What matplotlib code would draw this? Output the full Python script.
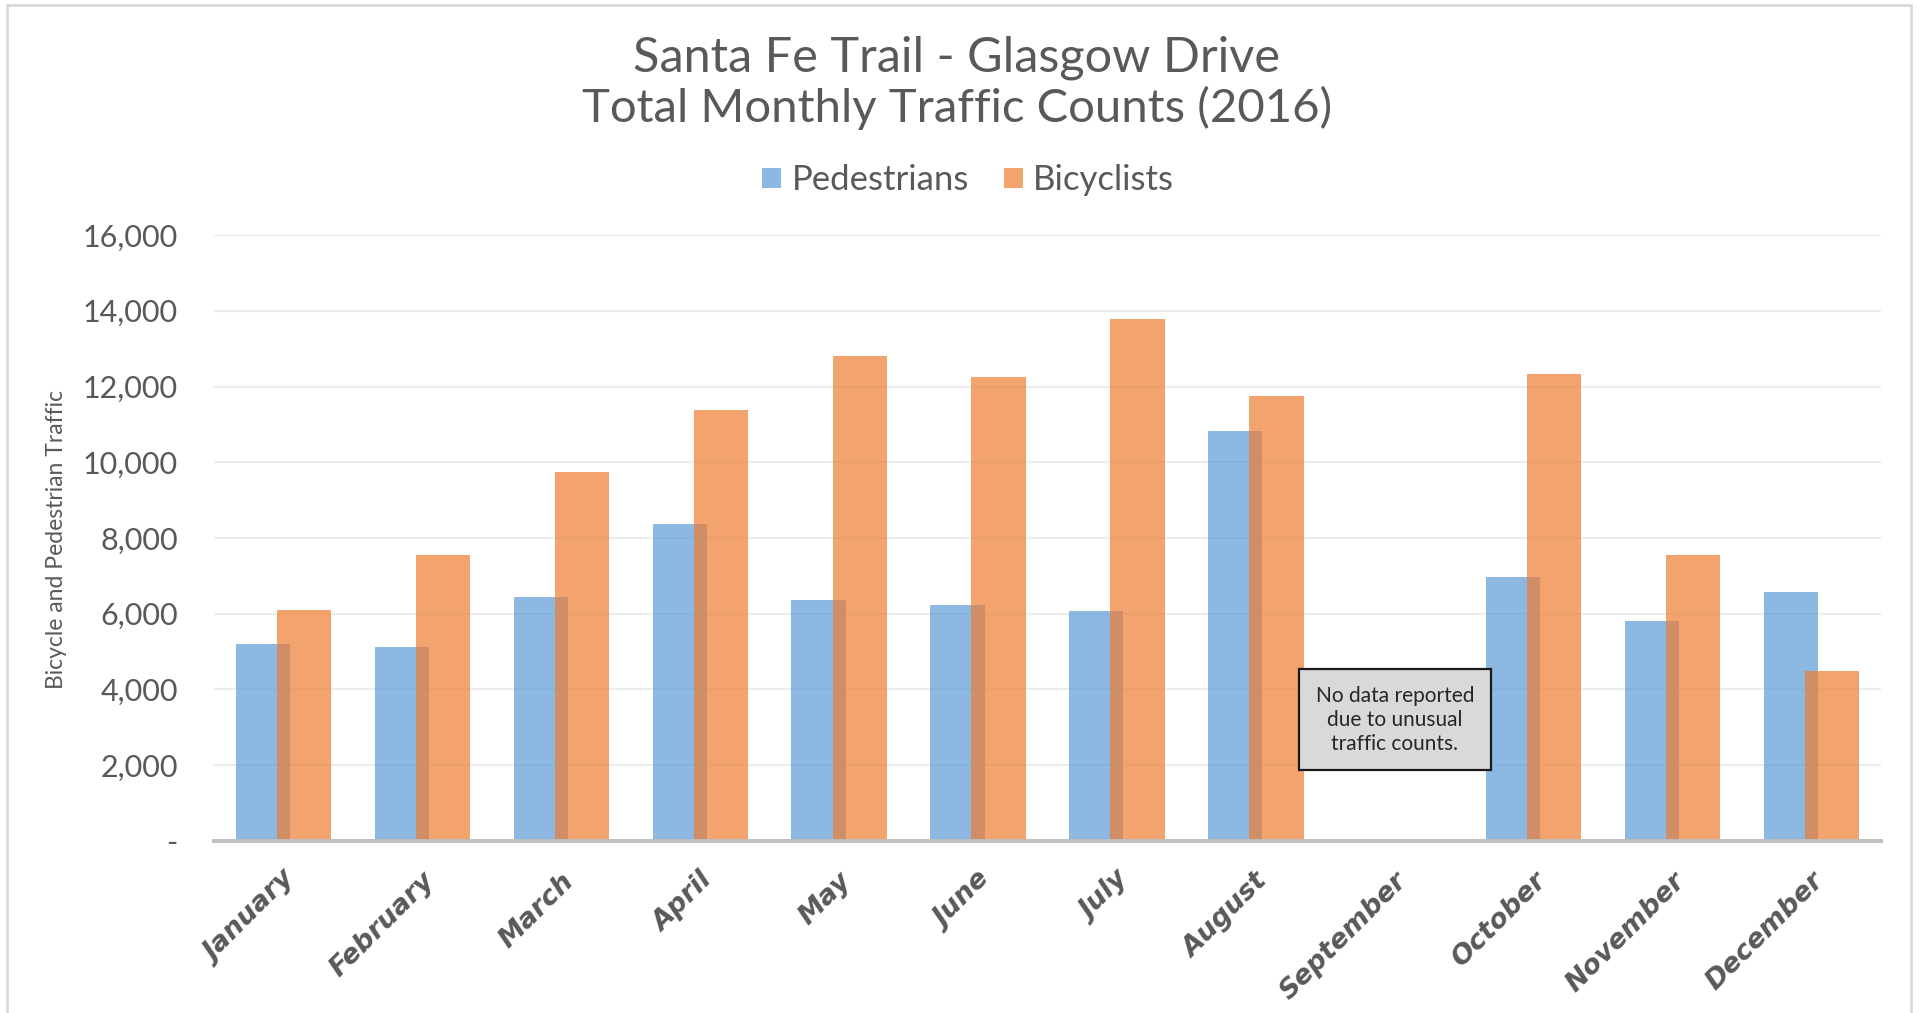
"""Santa Fe Trail - Glasgow Drive monthly traffic counts, 2016"""
import matplotlib
matplotlib.use("Agg")
import matplotlib.pyplot as plt
from matplotlib.patches import Rectangle
from matplotlib.ticker import FuncFormatter
from matplotlib.transforms import ScaledTranslation
import numpy as np

months = ["January", "February", "March", "April", "May", "June", "July",
          "August", "September", "October", "November", "December"]
pedestrians = [5200, 5120, 6450, 8380, 6350, 6220, 6080, 10820, np.nan, 6960, 5800, 6580]
bicyclists = [6110, 7555, 9730, 11370, 12800, 12240, 13780, 11750, np.nan, 12340, 7560, 4480]
y_ticks = [0, 2000, 4000, 6000, 8000, 10000, 12000, 14000, 16000]
note_month = "September"
note_text = "No data reported\ndue to unusual\ntraffic counts."

GREY_TEXT = "#595959"
BLUE = "#5B9BD5"
ORANGE = "#ED7D31"

plt.rcParams["font.family"] = ["Lato", "DejaVu Sans"]


def tick_fmt(value, pos):
    """Excel accounting style: zero shown as a dash"""
    if value == 0:
        return "-"
    return f"{value:,.0f}"


def main():
    fig = plt.figure(figsize=(19.19, 10.13), dpi=100)
    ax = fig.add_axes([0.1115, 0.1698, 0.8687, 0.5982])

    x = np.arange(len(months))
    width = 0.39
    offset = 0.148
    ax.bar(x - offset, pedestrians, width, color=BLUE, alpha=0.7,
           label="Pedestrians", zorder=2)
    ax.bar(x + offset, bicyclists, width, color=ORANGE, alpha=0.7,
           label="Bicyclists", zorder=3)

    ax.set_xlim(-0.5, len(months) - 0.5)
    ax.set_ylim(0, 16000)
    ax.set_yticks(y_ticks)
    ax.yaxis.set_major_formatter(FuncFormatter(tick_fmt))
    ax.grid(axis="y", color="#EDEDED", linewidth=1.6, zorder=0)
    ax.set_axisbelow(True)

    for side in ["top", "right", "left"]:
        ax.spines[side].set_visible(False)
    ax.spines["bottom"].set_color("#BFBFBF")
    ax.spines["bottom"].set_linewidth(2.8)
    ax.spines["bottom"].set_zorder(4)

    ax.tick_params(axis="y", length=0, pad=26, labelsize=22, labelcolor=GREY_TEXT)
    ax.tick_params(axis="x", length=0, pad=26)
    ax.set_xticks(x)
    ax.set_xticklabels(months, rotation=45, ha="right", va="center",
                       rotation_mode="anchor",
                       fontsize=19.5, fontweight="bold", fontstyle="italic",
                       color=GREY_TEXT, family=["DejaVu Sans"])
    shift = ScaledTranslation(6 / 72, 0, fig.dpi_scale_trans)
    for lbl in ax.get_xticklabels():
        lbl.set_transform(lbl.get_transform() + shift)

    # note for the missing month
    ax.text(months.index(note_month), 3200, note_text, ha="center", va="center",
            fontsize=15, color="#262626", linespacing=1.25, zorder=5,
            bbox=dict(boxstyle="square,pad=0.8", facecolor="#D9D9D9",
                      edgecolor="#1A1A1A", linewidth=1.6))

    fig.text(0.0295, 0.467, "Bicycle and Pedestrian Traffic", rotation=90,
             ha="center", va="center", fontsize=16.5, color=GREY_TEXT)

    fig.text(0.4985, 0.9425, "Santa Fe Trail - Glasgow Drive", ha="center",
             va="center", fontsize=35, color=GREY_TEXT)
    fig.text(0.4985, 0.893, "Total Monthly Traffic Counts (2016)", ha="center",
             va="center", fontsize=34, color=GREY_TEXT)

    fig.legend(loc="center", bbox_to_anchor=(0.5045, 0.822), ncol=2,
               frameon=False, fontsize=25, handlelength=0.55, handleheight=0.55,
               handletextpad=0.3, columnspacing=1.0, labelcolor=GREY_TEXT)

    # light grey chart-area border (open at the bottom)
    fig.patches.append(Rectangle((7 / 1919, -0.05), 1904 / 1919, 1.05 - 5 / 1013,
                                 transform=fig.transFigure, fill=False,
                                 edgecolor="#D9D9D9", linewidth=2))

    fig.savefig("out.png", dpi=100)


if __name__ == "__main__":
    main()
